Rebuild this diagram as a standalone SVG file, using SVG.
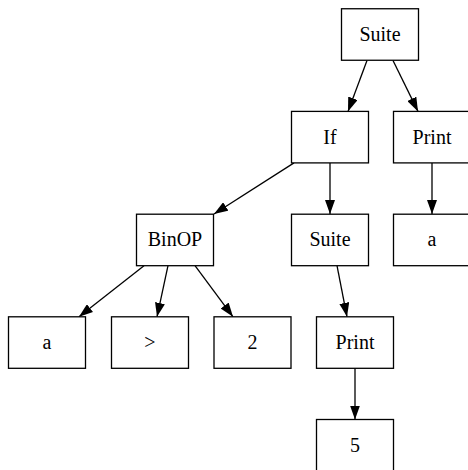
<svg xmlns="http://www.w3.org/2000/svg" width="468" height="470" viewBox="0 0 468 470">
<style>
rect.n{fill:#fff;stroke:#000;stroke-width:1.3}
text{font-family:"Liberation Serif","Times New Roman",serif;font-size:20px;text-anchor:middle;fill:#000}
.e path{fill:none;stroke:#000;stroke-width:1.3;marker-end:url(#ah)}
</style>
<defs>
<marker id="ah" viewBox="0 0 14 10" refX="14" refY="5" markerWidth="14" markerHeight="10" markerUnits="userSpaceOnUse" orient="auto">
<path d="M0,0 L14,5 L0,10 z" fill="#000"/>
</marker>
</defs>
<rect width="468" height="470" fill="#fff"/>
<g class="e" id="edges">
<path d="M367,60.5 L348,111.4"/>
<path d="M393,60.5 L418,111.4"/>
<path d="M294,162.9 L214,214"/>
<path d="M330,162.9 L330,214"/>
<path d="M432,162.9 L432,214"/>
<path d="M144,265.7 L79,316.8"/>
<path d="M168,265.7 L157,316.8"/>
<path d="M195,265.7 L233,316.8"/>
<path d="M337,265.7 L347,316.8"/>
<path d="M355,368.3 L355,419.5"/>
</g>
<g id="suite1"><rect class="n" x="341.5" y="8.75" width="77" height="51.5"/><text x="380" y="41">Suite</text></g>
<g id="if"><rect class="n" x="291.5" y="111.4" width="77" height="51.5"/><text x="330" y="143.7">If</text></g>
<g id="print1"><rect class="n" x="393.5" y="111.4" width="77" height="51.5"/><text x="432" y="143.7">Print</text></g>
<g id="binop"><rect class="n" x="136.5" y="214.2" width="77" height="51.5"/><text x="175" y="246.4">BinOP</text></g>
<g id="suite2"><rect class="n" x="291.5" y="214.2" width="77" height="51.5"/><text x="330" y="246.4">Suite</text></g>
<g id="a1"><rect class="n" x="393.5" y="214.2" width="77" height="51.5"/><text x="432" y="246.4">a</text></g>
<g id="a2"><rect class="n" x="8.5" y="316.8" width="77" height="51.5"/><text x="47" y="349.1">a</text></g>
<g id="gt"><rect class="n" x="111.5" y="316.8" width="77" height="51.5"/><text x="150" y="349.1">&gt;</text></g>
<g id="two"><rect class="n" x="214" y="316.8" width="77" height="51.5"/><text x="252.5" y="349.1">2</text></g>
<g id="print2"><rect class="n" x="316.5" y="316.8" width="77" height="51.5"/><text x="355" y="349.1">Print</text></g>
<g id="five"><rect class="n" x="316.5" y="419.5" width="77" height="51.5"/><text x="355" y="451.8">5</text></g>
</svg>
